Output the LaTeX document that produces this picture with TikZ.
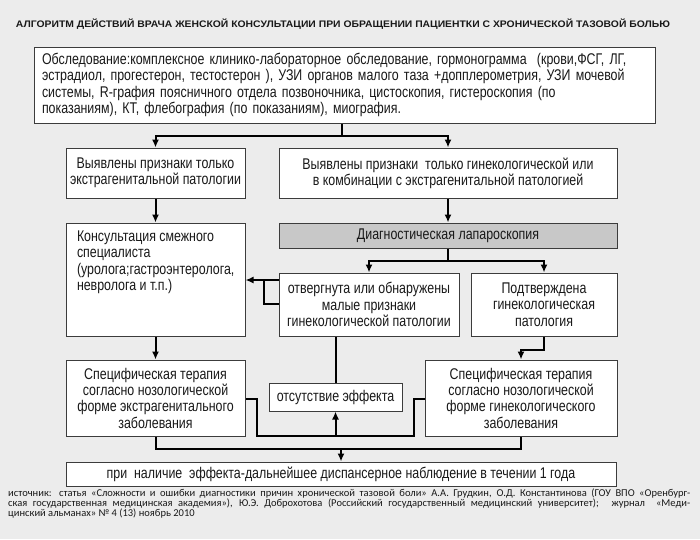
\documentclass[tikz,border=0pt]{standalone}
\usepackage{fontspec}
\usepackage{graphicx}
\usetikzlibrary{arrows.meta}
\setmainfont{Liberation Sans}
\newfontfamily\boxfont{Liberation Sans}[FakeStretch=0.8]
\newfontfamily\notefont{Carlito}
\definecolor{bggray}{RGB}{236,236,236}
\definecolor{lapgray}{RGB}{200,200,200}
\definecolor{framegray}{RGB}{60,60,60}
\definecolor{inkgray}{RGB}{25,25,25}
\pgfdeclarelayer{bglayer}
\pgfdeclarelayer{edgelayer}
\pgfdeclarelayer{nodelayer}
\pgfsetlayers{bglayer,edgelayer,nodelayer,main}
\tikzstyle{conn}=[draw=black, line width=2pt]
\tikzstyle{connarrow}=[conn, -{Latex[length=8pt,width=7pt]}]
\tikzstyle{flowbox}=[rectangle, fill=white, draw=framegray, line width=1pt, text=inkgray, font=\boxfont\fontsize{15.5pt}{16.3pt}\selectfont, align=center, inner sep=0pt]
\tikzstyle{lapbox}=[flowbox, fill=lapgray]

\begin{document}
\begin{tikzpicture}[x=1pt, y=-1pt]
	\begin{pgfonlayer}{bglayer}
		\fill [bggray] (0,0) rectangle (700,539);
	\end{pgfonlayer}
	\useasboundingbox (0,0) rectangle (700,539);
	\begin{pgfonlayer}{nodelayer}
		\node [font=\fontsize{9.5pt}{11pt}\selectfont\bfseries, text=inkgray] (11) at (343,24) {\resizebox{654pt}{\height}{АЛГОРИТМ ДЕЙСТВИЙ ВРАЧА ЖЕНСКОЙ КОНСУЛЬТАЦИИ ПРИ ОБРАЩЕНИИ ПАЦИЕНТКИ С ХРОНИЧЕСКОЙ ТАЗОВОЙ БОЛЬЮ}};
		\node [style=flowbox, minimum width=621pt, minimum height=76pt, text width=605pt, align=left] (0) at (344.5,85) {Обследование:комплексное клинико-лабораторное обследование, гормонограмма \ (крови,ФСГ, ЛГ,\\эстрадиол, прогестерон, тестостерон ), УЗИ органов малого таза +допплерометрия, УЗИ мочевой\\системы, R-графия поясничного отдела позвоночника, цистоскопия, гистероскопия (по\\показаниям), КТ, флебография (по показаниям), миография.};
		\node [style=flowbox, minimum width=179pt, minimum height=50pt] (1) at (155.5,173) {Выявлены признаки только\\экстрагенитальной патологии};
		\node [style=flowbox, minimum width=338pt, minimum height=50pt] (2) at (448,173) {Выявлены признаки \ только гинекологической или\\в комбинации с экстрагенитальной патологией};
		\node [style=flowbox, minimum width=179pt, minimum height=113pt, inner xsep=11pt, inner ysep=8pt] (3) at (155.5,279.5) {\parbox[t][97pt][t]{157pt}{\raggedright Консультация смежного\\специалиста\\(уролога;гастроэнтеролога,\\невролога и т.п.)}};
		\node [style=lapbox, minimum width=338pt, minimum height=25pt] (4) at (448,235.5) {Диагностическая лапароскопия};
		\node [style=flowbox, minimum width=180pt, minimum height=63pt] (5) at (369,304.5) {отвергнута или обнаружены\\малые признаки\\гинекологической патологии};
		\node [style=flowbox, minimum width=146pt, minimum height=63pt] (6) at (544,304.5) {Подтверждена\\гинекологическая\\патология};
		\node [style=flowbox, minimum width=179pt, minimum height=76pt] (7) at (155.5,398) {Специфическая терапия\\согласно нозологической\\форме экстрагенитального\\заболевания};
		\node [style=flowbox, minimum width=133pt, minimum height=28pt] (8) at (335.5,397) {отсутствие эффекта};
		\node [style=flowbox, minimum width=192pt, minimum height=76pt] (9) at (521,398) {Специфическая терапия\\согласно нозологической\\форме гинекологического\\заболевания};
		\node [style=flowbox, minimum width=550pt, minimum height=24pt] (10) at (341,474) {при \ наличие \ эффекта-дальнейшее диспансерное наблюдение в течении 1 года};
		\node [anchor=north west, align=left, inner sep=0pt, text=inkgray, font=\notefont\fontsize{10.5pt}{10pt}\selectfont] (12) at (8,489) {\makebox[682pt][s]{источник: статья «Сложности и ошибки диагностики причин хронической тазовой боли» А.А. Грудкин, О.Д. Константинова (ГОУ ВПО «Оренбург-}\\\makebox[682pt][s]{ская государственная медицинская академия»), Ю.Э. Доброхотова (Российский государственный медицинский университет); \ журнал \ «Меди-}\\цинский альманах» № 4 (13) ноябрь 2010};
	\end{pgfonlayer}
	\begin{pgfonlayer}{edgelayer}
		\coordinate (j0) at (342,136);
		\coordinate (j1) at (448,261);
		\coordinate (j2) at (263.5,304);
		\coordinate (j3) at (263.5,280);
		\coordinate (j4) at (544,350);
		\coordinate (j5) at (256.5,399);
		\coordinate (j6) at (256.5,436);
		\coordinate (j7) at (414,436);
		\coordinate (j8) at (414,399);
		\coordinate (j9) at (341,449);
		\draw [style=conn] (0.south -| j0) to (j0);
		\draw [style=connarrow] (j0) -| (1.north);
		\draw [style=connarrow] (j0) -| (2.north);
		\draw [style=connarrow] (1) to (3);
		\draw [style=connarrow] (2) to (4);
		\draw [style=conn] (4.south) to (j1);
		\draw [style=connarrow] (j1) -| (5.north);
		\draw [style=connarrow] (j1) -| (6.north);
		\draw [style=connarrow] (5.west |- j3) to (3.east |- j3);
		\draw [style=conn] (5.west |- j2) -- (j2) -- (j3);
		\draw [style=connarrow] (3) to (7);
		\draw [style=conn] (5.south -| 8) to (8.north);
		\draw [style=connarrow] (6.south) -- (j4) -| (9.north);
		\draw [style=conn] (7.east |- j5) -- (j5) -- (j6) -- (j7) -- (j8) -- (9.west |- j8);
		\draw [style=connarrow] (8.south |- j6) to (8.south);
		\draw [style=conn] (7.south) |- (j9) -| (9.south);
		\draw [style=connarrow] (j9) to (10.north);
	\end{pgfonlayer}
\end{tikzpicture}
\end{document}
